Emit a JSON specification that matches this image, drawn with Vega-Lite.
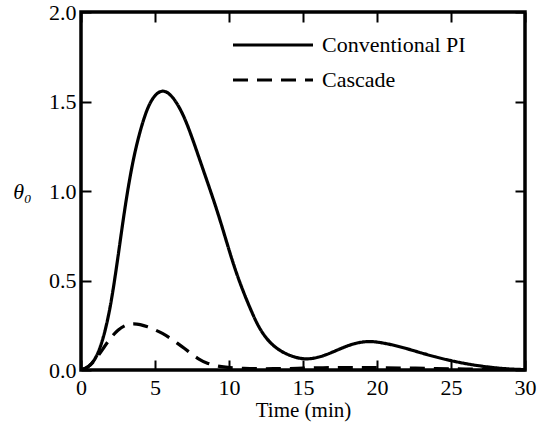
{
  "$schema": "https://vega.github.io/schema/vega-lite/v6.json",
  "width": 444,
  "height": 358,
  "autosize": {"type": "none"},
  "padding": {"left": 81, "top": 12, "right": 13, "bottom": 58},
  "background": "white",
  "config": {
    "view": {"stroke": "black", "strokeWidth": 3.5},
    "font": "Liberation Serif",
    "axis": {"labelFont": "Liberation Serif", "titleFont": "Liberation Serif", "labelColor": "black", "titleColor": "black", "tickColor": "black", "domain": false, "grid": false, "tickWidth": 2, "labelFlush": false}
  },
  "data": {
    "values": [
      {"t": 0, "v": 0, "series": "Conventional PI"},
      {"t": 0.5, "v": 0.015, "series": "Conventional PI"},
      {"t": 1, "v": 0.06, "series": "Conventional PI"},
      {"t": 1.5, "v": 0.17, "series": "Conventional PI"},
      {"t": 2, "v": 0.35, "series": "Conventional PI"},
      {"t": 2.5, "v": 0.63, "series": "Conventional PI"},
      {"t": 3, "v": 0.93, "series": "Conventional PI"},
      {"t": 3.5, "v": 1.17, "series": "Conventional PI"},
      {"t": 4, "v": 1.34, "series": "Conventional PI"},
      {"t": 4.5, "v": 1.47, "series": "Conventional PI"},
      {"t": 5, "v": 1.54, "series": "Conventional PI"},
      {"t": 5.5, "v": 1.565, "series": "Conventional PI"},
      {"t": 6, "v": 1.545, "series": "Conventional PI"},
      {"t": 6.5, "v": 1.49, "series": "Conventional PI"},
      {"t": 7, "v": 1.41, "series": "Conventional PI"},
      {"t": 7.5, "v": 1.3, "series": "Conventional PI"},
      {"t": 8, "v": 1.18, "series": "Conventional PI"},
      {"t": 8.5, "v": 1.06, "series": "Conventional PI"},
      {"t": 9, "v": 0.94, "series": "Conventional PI"},
      {"t": 9.5, "v": 0.81, "series": "Conventional PI"},
      {"t": 10, "v": 0.67, "series": "Conventional PI"},
      {"t": 10.5, "v": 0.54, "series": "Conventional PI"},
      {"t": 11, "v": 0.43, "series": "Conventional PI"},
      {"t": 11.5, "v": 0.33, "series": "Conventional PI"},
      {"t": 12, "v": 0.24, "series": "Conventional PI"},
      {"t": 12.5, "v": 0.178, "series": "Conventional PI"},
      {"t": 13, "v": 0.135, "series": "Conventional PI"},
      {"t": 13.5, "v": 0.105, "series": "Conventional PI"},
      {"t": 14, "v": 0.085, "series": "Conventional PI"},
      {"t": 14.5, "v": 0.07, "series": "Conventional PI"},
      {"t": 15, "v": 0.062, "series": "Conventional PI"},
      {"t": 15.5, "v": 0.062, "series": "Conventional PI"},
      {"t": 16, "v": 0.07, "series": "Conventional PI"},
      {"t": 16.5, "v": 0.083, "series": "Conventional PI"},
      {"t": 17, "v": 0.1, "series": "Conventional PI"},
      {"t": 17.5, "v": 0.118, "series": "Conventional PI"},
      {"t": 18, "v": 0.135, "series": "Conventional PI"},
      {"t": 18.5, "v": 0.148, "series": "Conventional PI"},
      {"t": 19, "v": 0.157, "series": "Conventional PI"},
      {"t": 19.5, "v": 0.16, "series": "Conventional PI"},
      {"t": 20, "v": 0.157, "series": "Conventional PI"},
      {"t": 21, "v": 0.142, "series": "Conventional PI"},
      {"t": 22, "v": 0.12, "series": "Conventional PI"},
      {"t": 23, "v": 0.095, "series": "Conventional PI"},
      {"t": 24, "v": 0.072, "series": "Conventional PI"},
      {"t": 25, "v": 0.052, "series": "Conventional PI"},
      {"t": 26, "v": 0.035, "series": "Conventional PI"},
      {"t": 27, "v": 0.022, "series": "Conventional PI"},
      {"t": 28, "v": 0.012, "series": "Conventional PI"},
      {"t": 29, "v": 0.005, "series": "Conventional PI"},
      {"t": 30, "v": 0.002, "series": "Conventional PI"},
      {"t": 0, "v": 0, "series": "Cascade"},
      {"t": 0.5, "v": 0.015, "series": "Cascade"},
      {"t": 1, "v": 0.06, "series": "Cascade"},
      {"t": 1.5, "v": 0.12, "series": "Cascade"},
      {"t": 2, "v": 0.18, "series": "Cascade"},
      {"t": 2.5, "v": 0.225, "series": "Cascade"},
      {"t": 3, "v": 0.252, "series": "Cascade"},
      {"t": 3.5, "v": 0.26, "series": "Cascade"},
      {"t": 4, "v": 0.255, "series": "Cascade"},
      {"t": 4.5, "v": 0.242, "series": "Cascade"},
      {"t": 5, "v": 0.225, "series": "Cascade"},
      {"t": 5.5, "v": 0.205, "series": "Cascade"},
      {"t": 6, "v": 0.18, "series": "Cascade"},
      {"t": 6.5, "v": 0.15, "series": "Cascade"},
      {"t": 7, "v": 0.12, "series": "Cascade"},
      {"t": 7.5, "v": 0.088, "series": "Cascade"},
      {"t": 8, "v": 0.058, "series": "Cascade"},
      {"t": 8.5, "v": 0.038, "series": "Cascade"},
      {"t": 9, "v": 0.026, "series": "Cascade"},
      {"t": 9.5, "v": 0.018, "series": "Cascade"},
      {"t": 10, "v": 0.013, "series": "Cascade"},
      {"t": 11, "v": 0.009, "series": "Cascade"},
      {"t": 12, "v": 0.007, "series": "Cascade"},
      {"t": 13, "v": 0.007, "series": "Cascade"},
      {"t": 14, "v": 0.008, "series": "Cascade"},
      {"t": 15, "v": 0.01, "series": "Cascade"},
      {"t": 16, "v": 0.012, "series": "Cascade"},
      {"t": 17, "v": 0.013, "series": "Cascade"},
      {"t": 18, "v": 0.014, "series": "Cascade"},
      {"t": 19, "v": 0.014, "series": "Cascade"},
      {"t": 20, "v": 0.013, "series": "Cascade"},
      {"t": 22, "v": 0.011, "series": "Cascade"},
      {"t": 24, "v": 0.008, "series": "Cascade"},
      {"t": 26, "v": 0.005, "series": "Cascade"},
      {"t": 28, "v": 0.003, "series": "Cascade"},
      {"t": 30, "v": 0.001, "series": "Cascade"}
    ]
  },
  "resolve": {"axis": {"x": "independent", "y": "independent"}},
  "layer": [
    {
      "mark": {"type": "line", "color": "black", "strokeWidth": 3.2, "interpolate": "basis", "clip": true},
      "encoding": {
        "x": {"field": "t", "type": "quantitative", "scale": {"domain": [0, 30], "nice": false},
          "axis": {"orient": "bottom", "values": [0, 5, 10, 15, 20, 25, 30], "tickSize": -10, "labelPadding": 17, "labelFontSize": 22, "title": "Time (min)", "titleFontSize": 21, "titleFontWeight": "normal", "titlePadding": 1}},
        "y": {"field": "v", "type": "quantitative", "scale": {"domain": [0, 2], "nice": false},
          "axis": {"orient": "left", "values": [0, 0.5, 1, 1.5, 2], "format": ".1f", "tickSize": -10, "labelPadding": 15, "labelFontSize": 22, "title": "θ₀", "titleFontSize": 22, "titleFontWeight": "normal", "titleFontStyle": "italic", "titleAngle": 0, "titleAlign": "center", "titleBaseline": "middle", "titleX": -59, "titleY": 179}},
        "strokeDash": {"field": "series", "type": "nominal",
          "scale": {"domain": ["Conventional PI", "Cascade"], "range": [[1, 0], [15, 9]]},
          "legend": {"orient": "none", "legendX": 180, "legendY": 21, "title": null, "padding": 0,
            "symbolType": "M-4,0H4", "symbolSize": 400, "symbolStrokeWidth": 3.2, "symbolStrokeColor": "black",
            "labelFontSize": 22, "labelFont": "Liberation Serif", "labelColor": "black", "labelOffset": 37, "rowPadding": 12}}
      }
    },
    {
      "mark": {"type": "line", "opacity": 0},
      "encoding": {
        "x": {"field": "t", "type": "quantitative", "axis": {"orient": "top", "values": [0, 5, 10, 15, 20, 25, 30], "tickSize": -10, "labels": false, "title": null}},
        "y": {"field": "v", "type": "quantitative", "axis": {"orient": "right", "values": [0, 0.5, 1, 1.5, 2], "tickSize": -10, "labels": false, "title": null}},
        "detail": {"field": "series"}
      }
    }
  ]
}
